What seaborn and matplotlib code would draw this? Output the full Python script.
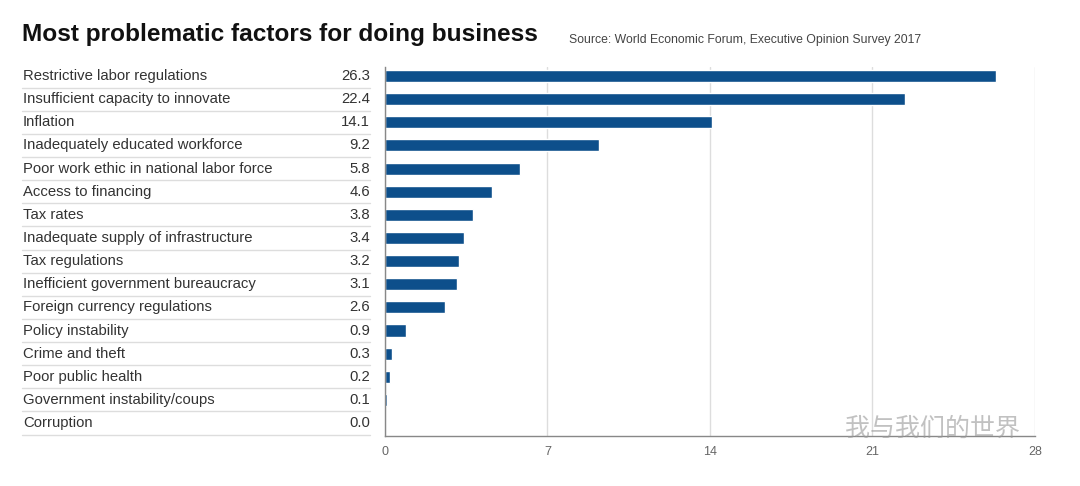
import matplotlib
matplotlib.use("Agg")
import matplotlib.pyplot as plt
import matplotlib.transforms as mtransforms
import seaborn as sns
import pandas as pd

factors = [
    "Restrictive labor regulations",
    "Insufficient capacity to innovate",
    "Inflation",
    "Inadequately educated workforce",
    "Poor work ethic in national labor force",
    "Access to financing",
    "Tax rates",
    "Inadequate supply of infrastructure",
    "Tax regulations",
    "Inefficient government bureaucracy",
    "Foreign currency regulations",
    "Policy instability",
    "Crime and theft",
    "Poor public health",
    "Government instability/coups",
    "Corruption",
]
scores = [26.3, 22.4, 14.1, 9.2, 5.8, 4.6, 3.8, 3.4, 3.2, 3.1, 2.6, 0.9, 0.3, 0.2, 0.1, 0.0]
x_ticks = [0, 7, 14, 21, 28]

df = pd.DataFrame({"factor": factors, "score": scores})

sns.set_style("white")
plt.rcParams["font.family"] = ["Liberation Sans", "DejaVu Sans"]

fig = plt.figure(figsize=(10.8, 4.86), dpi=100)
ax = fig.add_axes([385 / 1080, 1 - 436 / 486, 650 / 1080, (436 - 67) / 486])

sns.barplot(data=df, x="score", y="factor", orient="h", color="#0d4f8b",
            width=0.52, saturation=1, ax=ax)

ax.set_xlim(0, 28)
ax.set_ylim(len(factors) - 1 + 0.56, -0.39)
ax.set_xticks(x_ticks)
ax.set_xticklabels([str(t) for t in x_ticks])
ax.tick_params(axis="x", colors="#888888", labelcolor="#666666", labelsize=9,
               length=5, width=0.8, pad=2)
ax.set_yticks([])
ax.set_xlabel("")
ax.set_ylabel("")
ax.xaxis.grid(True, color="#dddddd", linewidth=1)
ax.set_axisbelow(True)
for side in ["top", "right"]:
    ax.spines[side].set_visible(False)
for side in ["left", "bottom"]:
    ax.spines[side].set_color("#888888")
    ax.spines[side].set_linewidth(1)

# Labels and values to the left of the plot
trans = mtransforms.blended_transform_factory(fig.transFigure, ax.transData)
for i, (name, val) in enumerate(zip(factors, scores)):
    ax.text(23 / 1080, i, name, transform=trans, ha="left", va="center",
            fontsize=10.7, color="#333333", clip_on=False)
    ax.text(370 / 1080, i, f"{val:.1f}", transform=trans, ha="right", va="center",
            fontsize=10.7, color="#333333", clip_on=False)
    ax.plot([22 / 1080, 370 / 1080], [i + 0.5, i + 0.5], transform=trans,
            color="#dddddd", linewidth=1, clip_on=False)

fig.text(22 / 1080, 1 - 35 / 486, "Most problematic factors for doing business",
         fontsize=17.6, fontweight="bold", color="#111111", ha="left", va="center")
fig.text(569 / 1080, 1 - 40 / 486, "Source: World Economic Forum, Executive Opinion Survey 2017",
         fontsize=8.8, color="#444444", ha="left", va="center")

# watermark (kept just above the tick labels)
fig.text(845 / 1080, 1 - 429 / 486, "我与我们的世界", fontsize=18,
         family=["Noto Sans CJK SC", "DejaVu Sans"], color="#999999", alpha=0.6,
         ha="left", va="center")

fig.savefig("out.png", dpi=100)
plt.close(fig)
